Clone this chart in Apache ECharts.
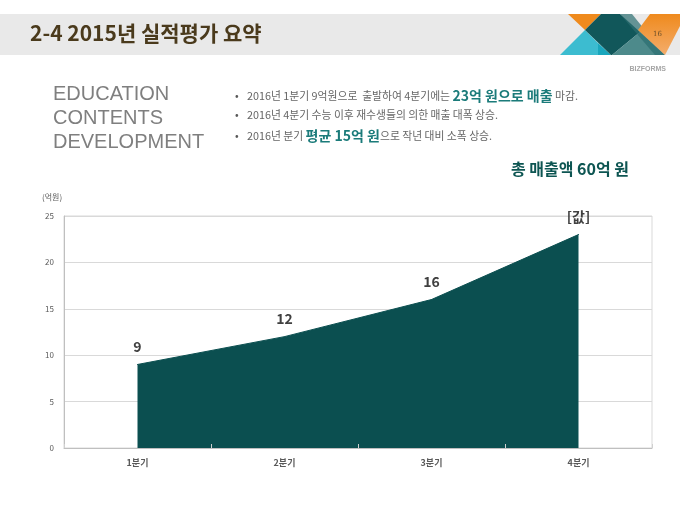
<!DOCTYPE html>
<html>
<head>
<meta charset="utf-8">
<script src="https://cdn.jsdelivr.net/npm/echarts@6/dist/echarts.min.js"></script>
<style>
html,body{margin:0;padding:0;background:#fff;}
#chart{width:680px;height:510px;}
</style>
</head>
<body>
<div id="chart"></div>
<script>
// ---- data ----
const categories = ['1분기', '2분기', '3분기', '4분기'];
const sales = [9, 12, 16, 23];
const pointLabels = ['9', '12', '16', '[값]'];
const yTicks = { min: 0, max: 25, interval: 5 };

const titleText = '2-4 2015년 실적평가 요약';
const pageNo = '16';
const brand = 'BIZFORMS';
const sideTitle = 'EDUCATION\nCONTENTS\nDEVELOPMENT';
const totalText = '총 매출액 60억 원';
const unitText = '(억원)';

const FONT = '"Noto Sans CJK KR", "Noto Sans", sans-serif';
const TEAL = '#0b4f50';

const chart = echarts.init(document.getElementById('chart'), null, { renderer: 'canvas' });

const NS = 10.8, HS = 14;
const rich = {
  b: { fontSize: NS, fill: '#595959', fontFamily: FONT, width: 12 },
  n: { fontSize: NS, fill: '#666666', fontFamily: FONT },
  h: { fontSize: HS, fontWeight: 'bold', fill: '#1b7b7a', fontFamily: FONT }
};

const option = {
  backgroundColor: '#ffffff',
  animation: false,
  textStyle: { fontFamily: FONT },
  grid: { left: 64, right: 28, top: 216, bottom: 62, show: true, borderColor: '#d9d9d9', borderWidth: 1 },
  xAxis: {
    type: 'category',
    data: categories,
    boundaryGap: true,
    axisLine: { show: true, lineStyle: { color: '#bfbfbf' } },
    axisTick: { show: true, inside: true, length: 4, lineStyle: { color: '#d0d0d0' } },
    axisLabel: { color: '#595959', fontSize: 9, fontWeight: 'bold', margin: 10, fontFamily: FONT },
    z: 5
  },
  yAxis: {
    type: 'value',
    min: yTicks.min, max: yTicks.max, interval: yTicks.interval,
    axisLine: { show: true, lineStyle: { color: '#bfbfbf' } },
    axisTick: { show: false },
    axisLabel: { color: '#595959', fontSize: 8, margin: 10, fontFamily: FONT },
    splitLine: { show: true, lineStyle: { color: '#d9d9d9' } }
  },
  series: [{
    type: 'line',
    data: sales,
    symbol: 'circle',
    symbolSize: 1,
    showSymbol: true,
    itemStyle: { color: TEAL },
    lineStyle: { color: TEAL, width: 1 },
    areaStyle: { color: TEAL, opacity: 1 },
    label: {
      show: true,
      position: 'top',
      distance: 10,
      color: '#404040',
      fontSize: 14,
      fontWeight: 'bold',
      fontFamily: FONT,
      formatter: p => pointLabels[p.dataIndex]
    },
    z: 3
  }],
  graphic: [
    // header band
    { type: 'rect', shape: { x: 0, y: 14, width: 680, height: 41 }, style: { fill: '#e9e9e9' }, z: 0 },
    { type: 'text', left: 30, top: 23, style: { text: titleText, fill: '#4a3a1c', font: 'bold 21px ' + FONT } },
    // decoration
    { type: 'polygon', shape: { points: [[568,14],[601,14],[585,30]] }, style: { fill: '#ef8a1d' } },
    { type: 'polygon', shape: { points: [[560,55],[585,30],[598,43],[598,55]] }, style: { fill: '#3cbcd0' } },
    { type: 'polygon', shape: { points: [[598,43],[611,55],[598,55]] }, style: { fill: '#1aa7bd' } },
    { type: 'polygon', shape: { points: [[585,30],[601,14],[620,14],[640,32],[612,55],[611,55]] }, style: { fill: '#11575a' } },
    { type: 'polygon', shape: { points: [[612,55],[640,32],[665,55]] }, style: { fill: '#4d8a8b' } },
    { type: 'polygon', shape: { points: [[620,14],[632,14],[665,55],[655,55]] }, style: { fill: '#2b6e70', opacity: 0.7 } },
    { type: 'polygon', shape: { points: [[650,14],[680,14],[680,26],[665,55],[638,30]] },
      style: { fill: new echarts.graphic.LinearGradient(0,0,0,1,[{offset:0,color:'#ef8a1d'},{offset:1,color:'#f4ad6c'}]) } },
    { type: 'text', left: 653, top: 31, style: { text: pageNo, fill: '#6b4f2a', font: '7px "DejaVu Serif", serif' } },
    { type: 'text', right: 14, top: 66, style: { text: brand, fill: '#a6a6a6', font: 'bold 7px "Liberation Sans", sans-serif' } },
    // side title
    { type: 'text', left: 53, top: 82, style: { text: sideTitle, fill: '#7f7f7f', font: '20px "Liberation Sans", Arial, sans-serif', lineHeight: 24 } },
    // bullets
    { type: 'text', left: 235, top: 89, style: {
      text: '{b|•}{n|2016년 1분기 9억원으로  출발하여 4분기에는 }{h|23억 원으로 매출}{n| 마감.}',
      fill: '#595959', font: NS + 'px ' + FONT, rich
    } },
    { type: 'text', left: 235, top: 110, style: {
      text: '{b|•}{n|2016년 4분기 수능 이후 재수생들의 의한 매출 대폭 상승.}',
      fill: '#595959', font: NS + 'px ' + FONT, rich
    } },
    { type: 'text', left: 235, top: 129, style: {
      text: '{b|•}{n|2016년 분기 }{h|평균 15억 원}{n|으로 작년 대비 소폭 상승.}',
      fill: '#595959', font: NS + 'px ' + FONT, rich
    } },
    { type: 'text', right: 51, top: 161, style: { text: totalText, fill: '#0d5552', font: 'bold 16px ' + FONT } },
    // unit
    { type: 'text', left: 42, top: 193, style: { text: unitText, fill: '#595959', font: '8px ' + FONT } }
  ]
};
chart.setOption(option);
</script>
</body>
</html>
